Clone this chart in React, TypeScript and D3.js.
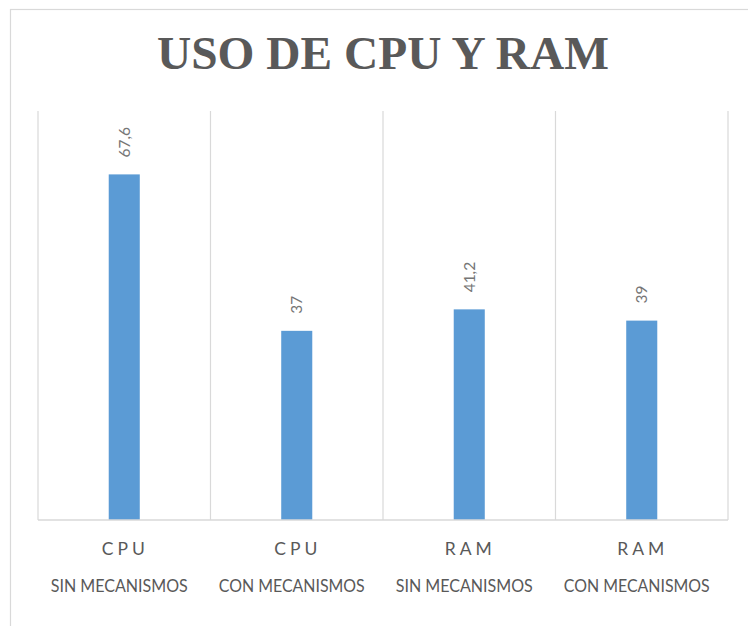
import React from "react";
import * as d3 from "d3";

const categories = ["CPU|SIN MECANISMOS", "CPU|CON MECANISMOS", "RAM|SIN MECANISMOS", "RAM|CON MECANISMOS"];
const topLabels = ["CPU", "CPU", "RAM", "RAM"];
const subLabels = ["SIN MECANISMOS", "CON MECANISMOS", "SIN MECANISMOS", "CON MECANISMOS"];
const values = [67.6, 37, 41.2, 39];
const valueLabels = ["67,6", "37", "41,2", "39"];
const yDomain = [0, 80];

const W = 748;
const H = 626;

export default function App() {
  const left = 38, right = 728, top = 111, bottom = 520;
  const x = d3.scaleBand<string>().domain(categories).range([left, right]).padding(0);
  const y = d3.scaleLinear().domain(yDomain).range([bottom, top]);
  const step = x.step();
  const bw = step * 0.18;
  const grid = "#D9D9D9";
  const text = "#595959";
  const bounds = [...categories.map((c) => x(c) as number), right];

  return (
    <svg width={W} height={H} style={{ position: "absolute", left: 0, top: 0, background: "#fff" }}>
      <rect x={10.5} y={9.5} width={800} height={700} fill="#fff" stroke={grid} strokeWidth={1.2} />
      <text
        x={(left + right) / 2}
        y={69}
        textAnchor="middle"
        fontFamily="'Liberation Serif', 'Times New Roman', serif"
        fontWeight="bold"
        fontSize={46}
        fill={text}
        textLength={452}
        lengthAdjust="spacingAndGlyphs"
      >
        USO DE CPU Y RAM
      </text>
      {bounds.map((bx, i) => (
        <line key={"g" + i} x1={bx} x2={bx} y1={top} y2={bottom} stroke={grid} strokeWidth={1.2} />
      ))}
      {categories.map((c, i) => {
        const cx = (x(c) as number) + step / 2;
        return (
          <g key={c}>
            <rect x={cx - bw / 2} y={y(values[i])} width={bw} height={bottom - y(values[i])} fill="#5B9BD5" />
            <text
              transform={`translate(${cx + 5.5},${y(values[i]) - 17}) rotate(-90)`}
              fontFamily="Lato, 'Open Sans', sans-serif"
              fontSize={15.5}
              fill="#767676"
              textAnchor="start"
            >
              {valueLabels[i]}
            </text>
            <text
              x={cx + 1}
              y={555}
              textAnchor="middle"
              fontFamily="Lato, 'Open Sans', sans-serif"
              fontSize={17.5}
              fill={text}
              letterSpacing={4}
            >
              {topLabels[i]}
            </text>
            <text
              x={cx - 5}
              y={592}
              textAnchor="middle"
              fontFamily="Lato, 'Open Sans', sans-serif"
              fontSize={17}
              fill={text}
              textLength={i % 2 === 0 ? 137 : 146}
              lengthAdjust="spacingAndGlyphs"
            >
              {subLabels[i]}
            </text>
          </g>
        );
      })}
      <line x1={left} x2={right} y1={bottom} y2={bottom} stroke={grid} strokeWidth={1.6} />
    </svg>
  );
}
